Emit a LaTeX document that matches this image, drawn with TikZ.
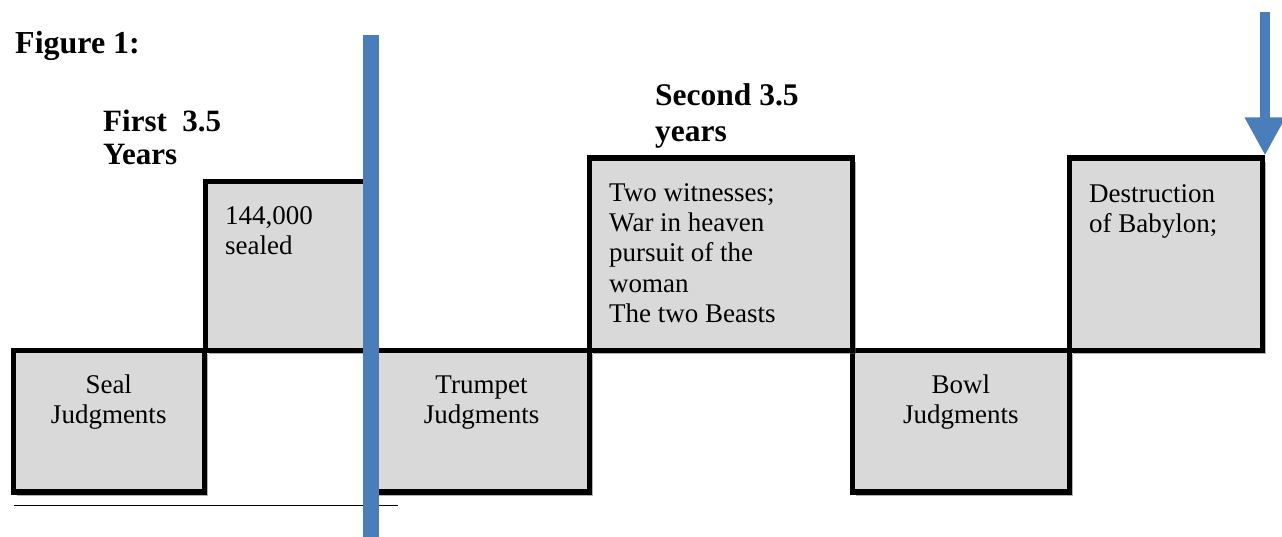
\documentclass[tikz,border=0pt]{standalone}
\usepackage{fontspec}
\setmainfont{Liberation Serif}
\usepackage{tikz}
\usetikzlibrary{arrows.meta,shadows,positioning}

\definecolor{boxgray}{RGB}{217,217,217}
\definecolor{markblue}{RGB}{74,126,187}

\begin{document}
\begin{tikzpicture}[x=1pt,y=-1pt]
		\tikzstyle{period}=[rectangle, draw=black, line width=5.5pt, fill=boxgray, anchor=north west, inner sep=0pt,
			drop shadow={shadow xshift=4pt, shadow yshift=-4pt, opacity=0.5, fill=black!60}]
		\tikzstyle{boxtext}=[inner sep=0pt, align=left, font=\fontsize{27}{30}\selectfont]
		\tikzstyle{midtext}=[boxtext, align=center, anchor=base]
		\tikzstyle{lefttext}=[boxtext, anchor=base west]
		\tikzstyle{headtext}=[inner sep=0pt, align=left, anchor=base west, font=\bfseries\fontsize{31}{33}\selectfont]

		\useasboundingbox (0,0) rectangle (1282,537);

		% lower row
		\node [period, minimum width=191pt, minimum height=141.5pt] (seal) at (10.5,347.5) {};
		\node [period, minimum width=215.5pt, minimum height=141.5pt] (trumpet) at (371,347.5) {};
		\node [period, minimum width=217pt, minimum height=141.5pt] (bowl) at (849.5,347.5) {};
		% upper row
		\node [period, minimum width=168.5pt, minimum height=168.5pt] (sealed) at (202.5,179) {};
		\node [period, minimum width=263pt, minimum height=192pt] (witness) at (586.5,155.5) {};
		\node [period, minimum width=193pt, minimum height=192pt] (babylon) at (1066.5,155.5) {};

		% base anchor sits on the last line
		\node [midtext] (sealtxt) at ([yshift=-75.5pt]seal.north) {Seal\\Judgments};
		\node [midtext] (trumpettxt) at ([yshift=-75.5pt]trumpet.north) {Trumpet\\Judgments};
		\node [midtext] (bowltxt) at ([yshift=-76pt]bowl.north) {Bowl\\Judgments};
		\node [lefttext] (sealedtxt) at ([xshift=22.5pt,yshift=-76pt]sealed.north west) {144,000\\sealed};
		\node [lefttext] (witnesstxt) at ([xshift=22.5pt,yshift=-166.5pt]witness.north west)
			{Two witnesses;\\War in heaven\\pursuit of the\\woman\\The two Beasts};
		\node [lefttext] (babylontxt) at ([xshift=22.5pt,yshift=-77.5pt]babylon.north west) {Destruction\\of Babylon;};

		\node [headtext, font=\bfseries\fontsize{32}{33}\selectfont] (fig) at (15,54) {Figure 1:};
		\node [headtext] (first) at (103,165) {First\ \ 3.5\\Years};
		\node [headtext, font=\bfseries\fontsize{31.5}{36}\selectfont] (second) at (655,142) {Second 3.5\\years};

		% footnote rule
		\coordinate (rulea) at (14,505.5);
		\coordinate (ruleb) at (398,505.5);
		\draw [line width=1.3pt] (rulea) -- (ruleb);

		% midpoint marker
		\coordinate (midtop) at (371,35);
		\coordinate (midbot) at (371,537);
		\draw [markblue, line width=16pt, drop shadow={shadow xshift=3pt, shadow yshift=-2pt, opacity=0.3}] (midtop) -- (midbot);

		% end marker
		\coordinate (endtop) at (babylon.north east |- 0,12);
		\draw [markblue, line width=10pt, -{Triangle[length=38pt,width=38pt]},
			drop shadow={shadow xshift=3pt, shadow yshift=-2pt, opacity=0.3}] (endtop) -- (babylon.north east);
\end{tikzpicture}
\end{document}
